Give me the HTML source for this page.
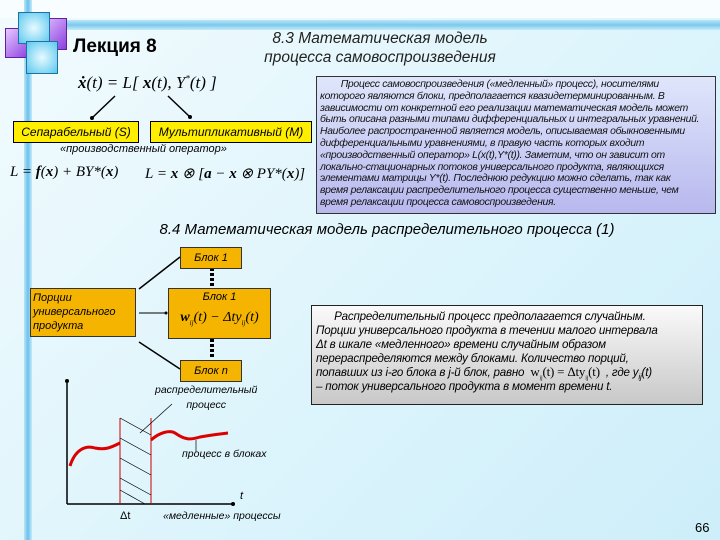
<!DOCTYPE html>
<html><head><meta charset="utf-8"><style>
body{margin:0;width:720px;height:540px;overflow:hidden;position:relative;font-family:"Liberation Sans",sans-serif;background:linear-gradient(135deg,#f2fbfe 0%,#dff5fc 50%,#cdeefa 100%);}
.a{position:absolute}
.i{font-style:italic}
.y{background:#ffee00;border:1px solid #000;font-style:italic;font-size:12px;text-align:center;line-height:20px}
.o{background:#f5b400;border:1px solid #333;font-style:italic;font-size:11px}
sub{line-height:0}
</style></head><body>
<div class="a" style="left:0;top:0;width:720px;height:18px;background:#f8fdff"></div>
<div class="a" style="left:45px;top:20px;width:675px;height:10px;background:linear-gradient(180deg,#b8e6f8,#7cc8ec,#c4ecfa)"></div>
<div class="a" style="left:24px;top:0;width:8px;height:540px;background:linear-gradient(90deg,#b8e6f8,#6cc0ec,#c4ecfa)"></div>
<div class="a" style="left:5px;top:28px;width:24px;height:28px;background:linear-gradient(135deg,#e8c8ff,#8a3ee0);border:1px solid #6020a0"></div>
<div class="a" style="left:37px;top:18px;width:28px;height:30px;background:linear-gradient(135deg,#e8c8ff,#8a3ee0);border:1px solid #6020a0"></div>
<div class="a" style="left:18px;top:12px;width:30px;height:30px;background:radial-gradient(#e8faff,#5ac8f0);border:1px solid #2070a0"></div>
<div class="a" style="left:26px;top:41px;width:30px;height:31px;background:radial-gradient(#e8faff,#5ac8f0);border:1px solid #2070a0"></div>
<div class="a" style="left:73px;top:36px;font-size:19px;font-weight:bold">Лекция 8</div>
<div class="a i" style="left:225px;top:29px;width:310px;text-align:center;font-size:15.5px;line-height:19px;color:#222">8.3 Математическая модель<br>процесса самовоспроизведения</div>
<div class="a i" style="left:78px;top:73px;font-size:17px;font-family:'Liberation Serif',serif"><b>x&#775;</b>(t) = L[ <b>x</b>(t), Y<sup style="font-size:9px">*</sup>(t) ]</div>
<svg class="a" style="left:0;top:0" width="720" height="540">
<line x1="115" y1="96" x2="92" y2="118" stroke="#000" stroke-width="1.5"/><circle cx="92" cy="118" r="2"/>
<line x1="168" y1="96" x2="190" y2="117" stroke="#000" stroke-width="1.5"/><circle cx="190" cy="117" r="2"/>
<line x1="139" y1="289" x2="180" y2="257" stroke="#000" stroke-width="1.5"/>
<line x1="139" y1="313" x2="166" y2="313" stroke="#000"/><circle cx="166" cy="313" r="1.5"/>
<line x1="139" y1="342" x2="180" y2="369" stroke="#000" stroke-width="1.5"/>
<line x1="212" y1="268" x2="212" y2="287" stroke="#000" stroke-width="4" stroke-dasharray="3,2"/>
<line x1="212" y1="339" x2="212" y2="359" stroke="#000" stroke-width="4" stroke-dasharray="3,2"/>
<line x1="67" y1="383" x2="67" y2="504" stroke="#000" stroke-width="1.5"/><circle cx="67" cy="381" r="2"/>
<line x1="67" y1="504" x2="232" y2="504" stroke="#000" stroke-width="1.5"/><circle cx="233" cy="504" r="2"/>
<line x1="120" y1="418" x2="120" y2="504" stroke="#c00"/><line x1="151" y1="418" x2="151" y2="504" stroke="#c00"/>
<g stroke="#000" stroke-width="0.7"><line x1="120" y1="418" x2="151" y2="435"/><line x1="120" y1="438" x2="151" y2="455"/><line x1="120" y1="458" x2="151" y2="475"/><line x1="120" y1="478" x2="151" y2="495"/><line x1="120" y1="490" x2="145" y2="504"/>
<line x1="140" y1="433" x2="172" y2="404"/><line x1="196" y1="440" x2="196" y2="452"/></g>
<path d="M70,466 C75,450 85,445 95,448 C105,450 110,448 120,443" stroke="#d00" stroke-width="3" fill="none"/>
<path d="M151,440 C160,432 170,430 175,433 C185,440 190,440 200,437 C210,435 220,434 228,433" stroke="#d00" stroke-width="3" fill="none"/>
</svg>
<div class="a y" style="left:13px;top:121px;width:124px">Сепарабельный (S)</div>
<div class="a y" style="left:150px;top:121px;width:160px">Мультипликативный (M)</div>
<div class="a i" style="left:60px;top:143px;font-size:11px">«производственный оператор»</div>
<div class="a i" style="left:10px;top:164px;font-size:15px;font-family:'Liberation Serif',serif">L = <b>f</b>(<b>x</b>) + BY*(<b>x</b>)</div>
<div class="a i" style="left:145px;top:164px;font-size:15px;font-family:'Liberation Serif',serif">L = <b>x</b> ⊗ [<b>a</b> − <b>x</b> ⊗ PY*(<b>x</b>)]</div>
<div class="a i" style="left:316px;top:76px;width:393px;height:130px;padding:2px 2px 4px 3px;font-size:10.4px;line-height:11.8px;background:linear-gradient(180deg,#dfe6fb,#b8b8ee);border:1px solid #333;color:#111;overflow:hidden;white-space:nowrap;letter-spacing:-0.3px">&nbsp;&nbsp;&nbsp;&nbsp;&nbsp;&nbsp;&nbsp;&nbsp;Процесс самовоспроизведения («медленный» процесс), носителями<br>которого являются блоки, предполагается квазидетерминированным. В<br>зависимости от конкретной его реализации математическая модель может<br>быть описана разными типами дифференциальных и интегральных уравнений.<br>Наиболее распространенной является модель, описываемая обыкновенными<br>дифференциальными уравнениями, в правую часть которых входит<br>«производственный оператор» L(x(t),Y*(t)). Заметим, что он зависит от<br>локально-стационарных потоков универсального продукта, являющихся<br>элементами матрицы Y*(t). Последнюю редукцию можно сделать, так как<br>время релаксации распределительного процесса существенно меньше, чем<br>время релаксации процесса самовоспроизведения.</div>
<div class="a i" style="left:130px;top:221px;width:514px;text-align:center;font-size:15px">8.4 Математическая модель распределительного процесса (1)</div>
<div class="a o" style="left:180px;top:247px;width:60px;height:20px;text-align:center;line-height:20px">Блок 1</div>
<div class="a o" style="left:168px;top:288px;width:101px;height:49px;text-align:center;line-height:16px">Блок 1<br><span style="font-family:'Liberation Serif',serif;font-size:14px;line-height:26px;color:#000"><b>w</b><sub style="font-size:7px">ij</sub>(t) − Δty<sub style="font-size:7px">ij</sub>(t)</span></div>
<div class="a o" style="left:30px;top:288px;width:106px;height:49px;padding-left:2px;line-height:14px;padding-top:2px;box-sizing:border-box">Порции<br>универсального<br>продукта</div>
<div class="a o" style="left:180px;top:360px;width:60px;height:20px;text-align:center;line-height:20px">Блок n</div>
<div class="a i" style="left:311px;top:305px;width:392px;height:100px;box-sizing:border-box;padding:4px 4px;font-size:11.6px;line-height:14px;background:linear-gradient(180deg,#fafafa,#c8c8c8);border:1px solid #222;white-space:nowrap;overflow:hidden;letter-spacing:-0.2px">&nbsp;&nbsp;&nbsp;&nbsp;&nbsp;&nbsp;Распределительный процесс предполагается случайным.<br>Порции универсального продукта в течении малого интервала<br>Δt в шкале «медленного» времени случайным образом<br>перераспределяются между блоками. Количество порций,<br>попавших из i-го блока в j-й блок, равно &nbsp;<span style="font-style:normal;font-family:'Liberation Serif',serif;font-size:13px;line-height:10px">w<sub style="font-size:6px">ij</sub>(t) = Δty<sub style="font-size:6px">ij</sub>(t)</span>&nbsp; , где y<sub style="font-size:8px">ij</sub>(t)<br>– поток универсального продукта в момент времени t.</div>
<div class="a i" style="left:155px;top:383px;font-size:10.5px;line-height:15px;text-align:center">распределительный<br>процесс</div>
<div class="a i" style="left:182px;top:448px;font-size:10.5px">процесс в блоках</div>
<div class="a i" style="left:240px;top:490px;font-size:11px">t</div>
<div class="a" style="left:120px;top:510px;font-size:11px">Δt</div>
<div class="a i" style="left:163px;top:510px;font-size:10.5px">«медленные» процессы</div>
<div class="a" style="left:695px;top:520px;font-size:13px">66</div>
</body></html>
